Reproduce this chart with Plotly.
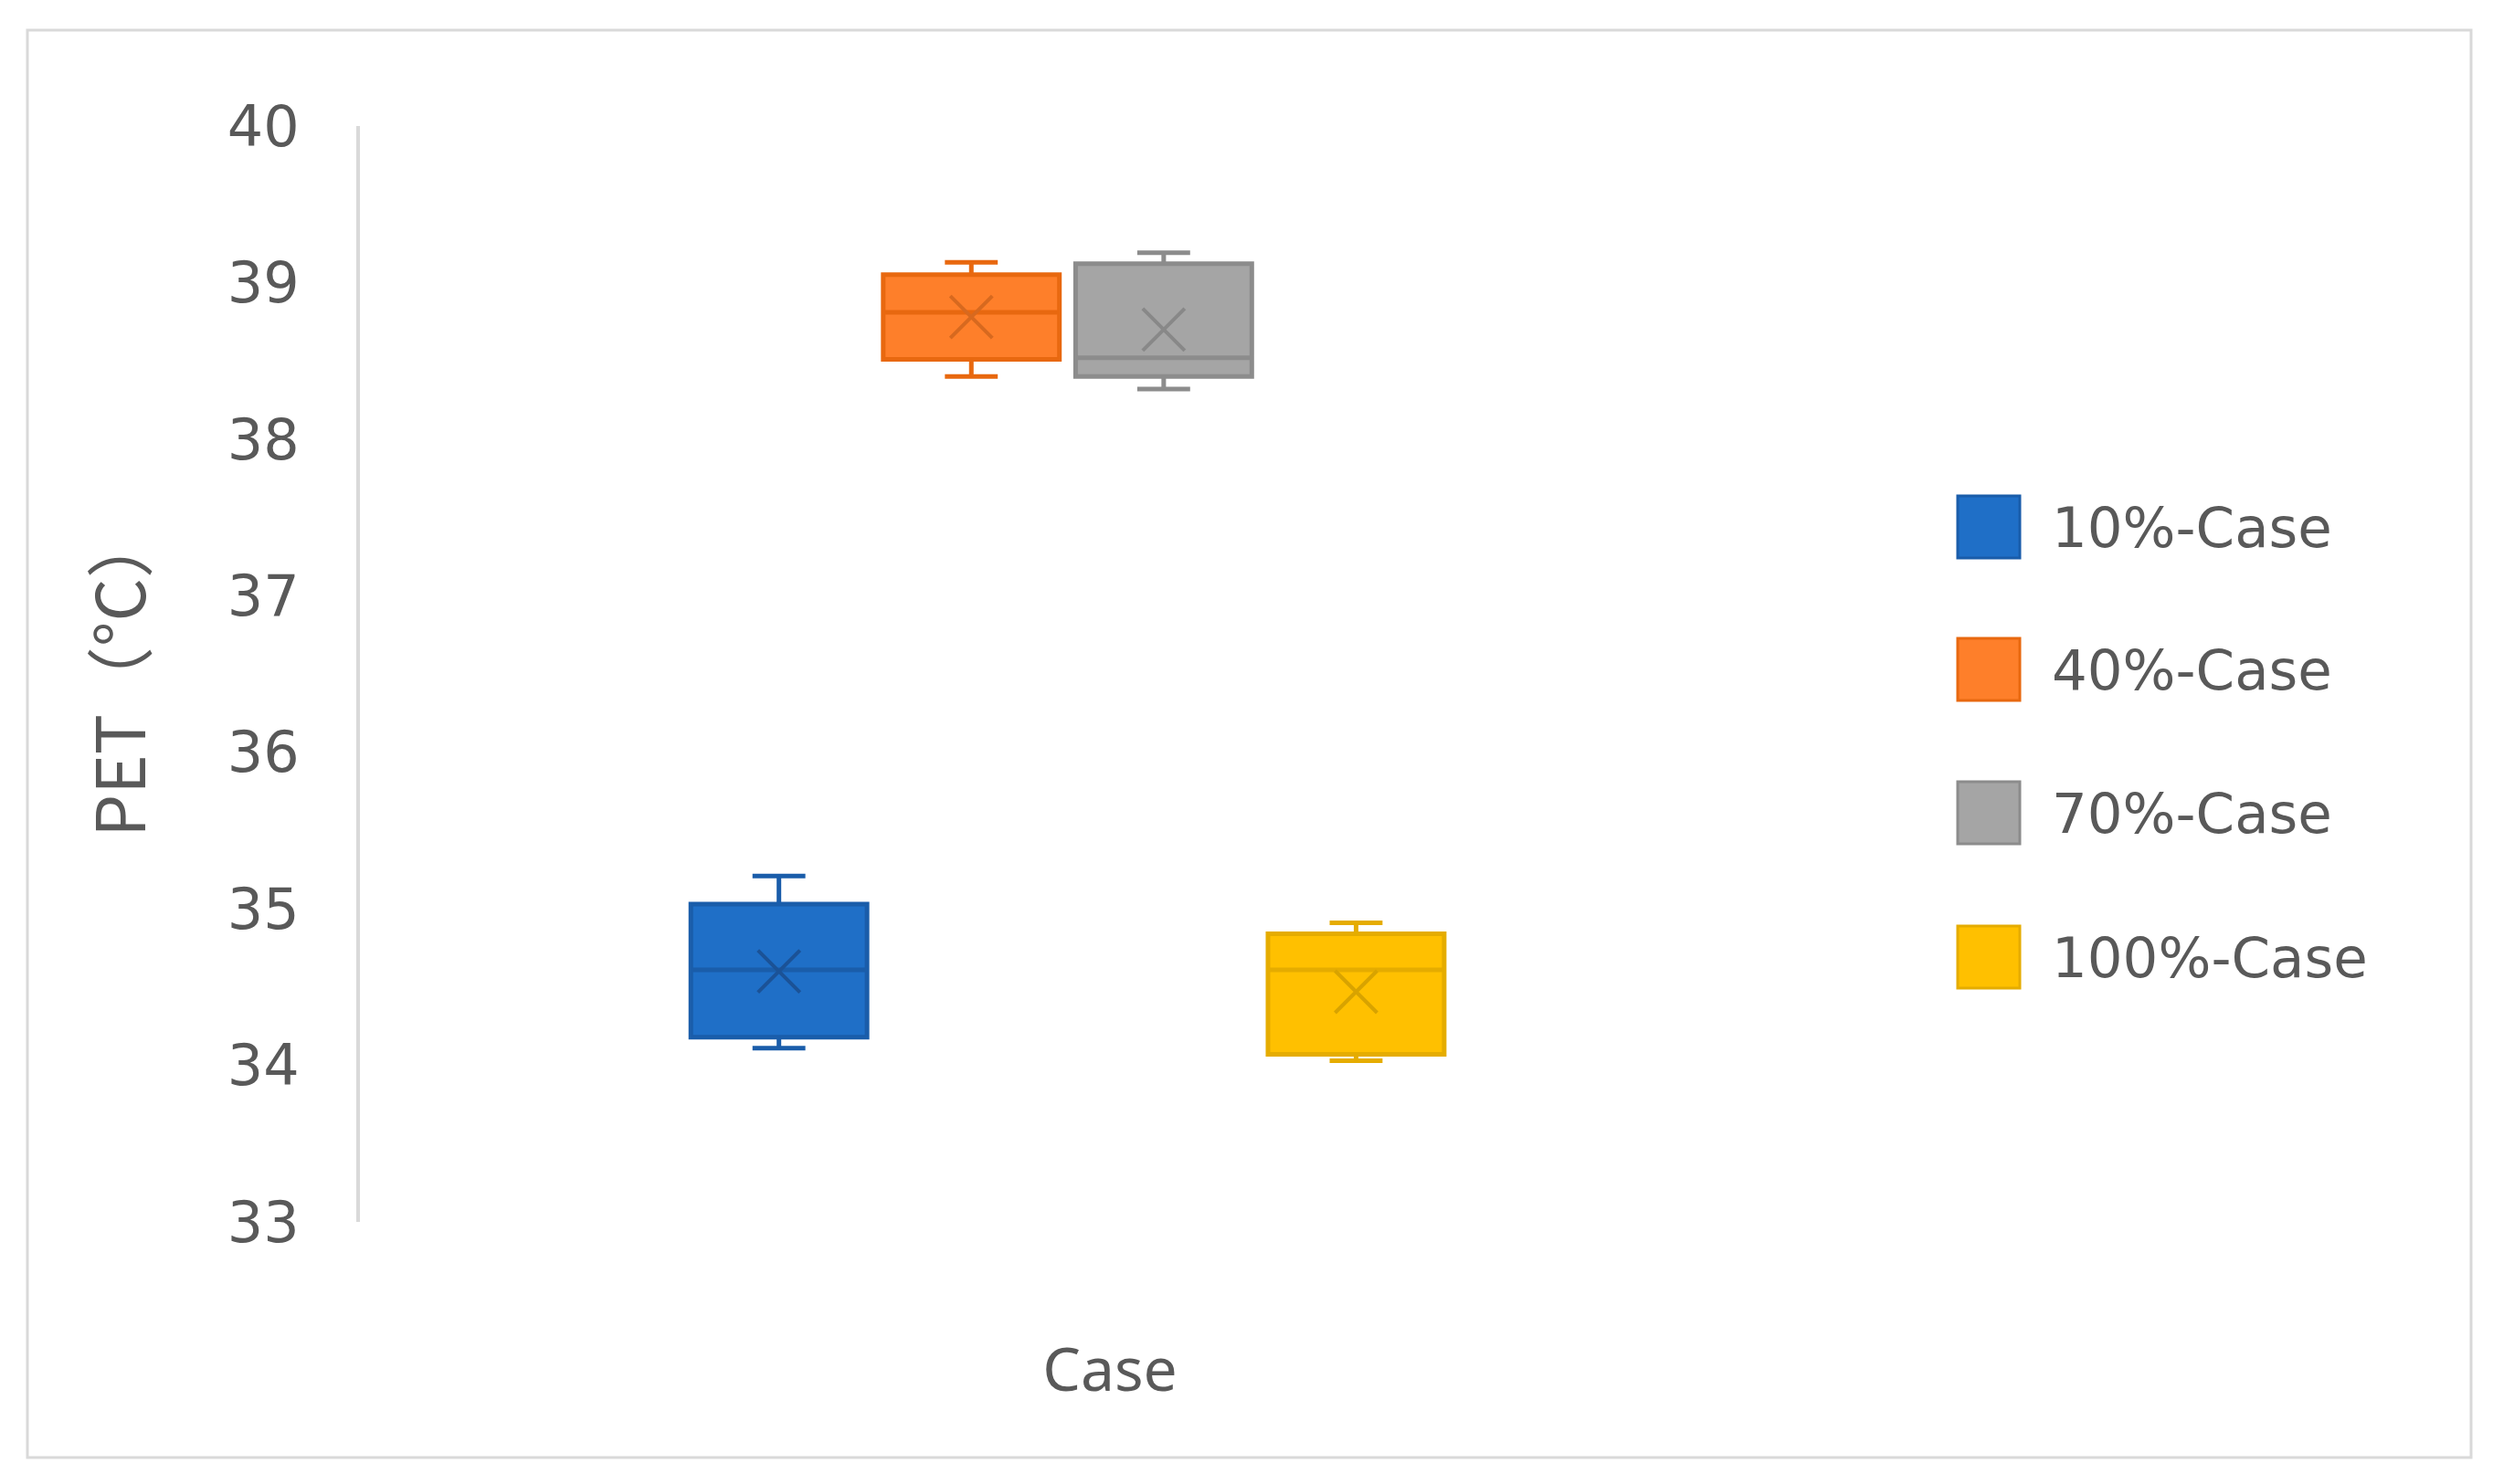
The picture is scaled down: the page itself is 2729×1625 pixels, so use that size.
import plotly.graph_objects as go

# PET box statistics per shading case
CASES = ['10%-Case', '40%-Case', '70%-Case', '100%-Case']
LOWER_WHISKER = [34.11, 38.40, 38.32, 34.03]
Q1 = [34.18, 38.51, 38.40, 34.07]
MEDIAN = [34.61, 38.81, 38.52, 34.61]
Q3 = [35.03, 39.05, 39.12, 34.84]
UPPER_WHISKER = [35.21, 39.13, 39.19, 34.91]
MEAN = [34.60, 38.78, 38.70, 34.47]
Y_TICKS = [33, 34, 35, 36, 37, 38, 39, 40]

FILL_COLOURS = ['#1F6FC7', '#FE7F2A', '#A5A5A5', '#FFC000']
LINE_COLOURS = ['#1A5DAA', '#E8680F', '#8C8C8C', '#E5AC00']
MEAN_COLOURS = ['#1B5296', '#D7691F', '#888888', '#D8A300']
TEXT_COLOUR = '#595959'
FRAME_COLOUR = '#D9D9D9'

W, H = 2729, 1625
PLOT_L, PLOT_R, PLOT_T, PLOT_B = 386, 2028, 130, 1330


def paper_x(px):
    return (px - PLOT_L) / (PLOT_R - PLOT_L)


def paper_y(py):
    return (PLOT_B - py) / (PLOT_B - PLOT_T)


fig = go.Figure()
for i, name in enumerate(CASES):
    fig.add_trace(go.Box(
        x=[name], name=name,
        lowerfence=[LOWER_WHISKER[i]], q1=[Q1[i]], median=[MEDIAN[i]],
        q3=[Q3[i]], upperfence=[UPPER_WHISKER[i]],
        fillcolor=FILL_COLOURS[i],
        line=dict(color=LINE_COLOURS[i], width=5),
        whiskerwidth=0.3,
        boxpoints=False,
        hoverinfo='y',
    ))
    fig.add_trace(go.Scatter(
        x=[name], y=[MEAN[i]], mode='markers',
        marker=dict(symbol='x-thin', size=46,
                    line=dict(color=MEAN_COLOURS[i], width=4)),
        hoverinfo='y', showlegend=False,
    ))

# hand-drawn legend so the swatches can be as large as in the original
LEGEND_Y = [569, 725, 882, 1040]
SW = 68
for i, name in enumerate(CASES):
    cy = LEGEND_Y[i]
    fig.add_shape(type='rect', xref='paper', yref='paper',
                  x0=paper_x(2135), x1=paper_x(2135 + SW),
                  y0=paper_y(cy + SW / 2), y1=paper_y(cy - SW / 2),
                  fillcolor=FILL_COLOURS[i],
                  line=dict(color=LINE_COLOURS[i], width=3))
    fig.add_annotation(x=paper_x(2236), y=paper_y(cy), xref='paper', yref='paper',
                       text=name, showarrow=False, xanchor='left', yanchor='middle',
                       font=dict(family='DejaVu Sans', size=61, color=TEXT_COLOUR))

# outer chart frame
fig.add_shape(type='rect', xref='paper', yref='paper',
              x0=paper_x(22), x1=paper_x(2697), y0=paper_y(1588), y1=paper_y(25),
              line=dict(color=FRAME_COLOUR, width=3), layer='below')

fig.update_layout(
    width=W, height=H,
    margin=dict(l=PLOT_L, r=W - PLOT_R, t=PLOT_T, b=H - PLOT_B, autoexpand=False),
    paper_bgcolor='white', plot_bgcolor='white',
    showlegend=False,
    boxgap=0.084, boxgroupgap=0,
    font=dict(family='DejaVu Sans', color=TEXT_COLOUR),
)
fig.update_xaxes(type='category', categoryorder='array', categoryarray=CASES,
                 range=[-2.178, 5.619], showticklabels=False, showgrid=False,
                 zeroline=False, showline=False, ticks='',
                 title=dict(text='Case', standoff=138,
                            font=dict(family='Noto Sans', size=66, color=TEXT_COLOUR)))
fig.update_yaxes(range=[33, 40], tickvals=Y_TICKS, showgrid=False, zeroline=False,
                 showline=True, linecolor=FRAME_COLOUR, linewidth=4, ticks='',
                 ticklabelstandoff=50,
                 tickfont=dict(family='DejaVu Sans', size=62, color=TEXT_COLOUR),
                 title=dict(text='PET（°C）', standoff=66,
                            font=dict(family='Noto Sans CJK SC', size=74, color=TEXT_COLOUR)))

fig.write_html('out.html')
